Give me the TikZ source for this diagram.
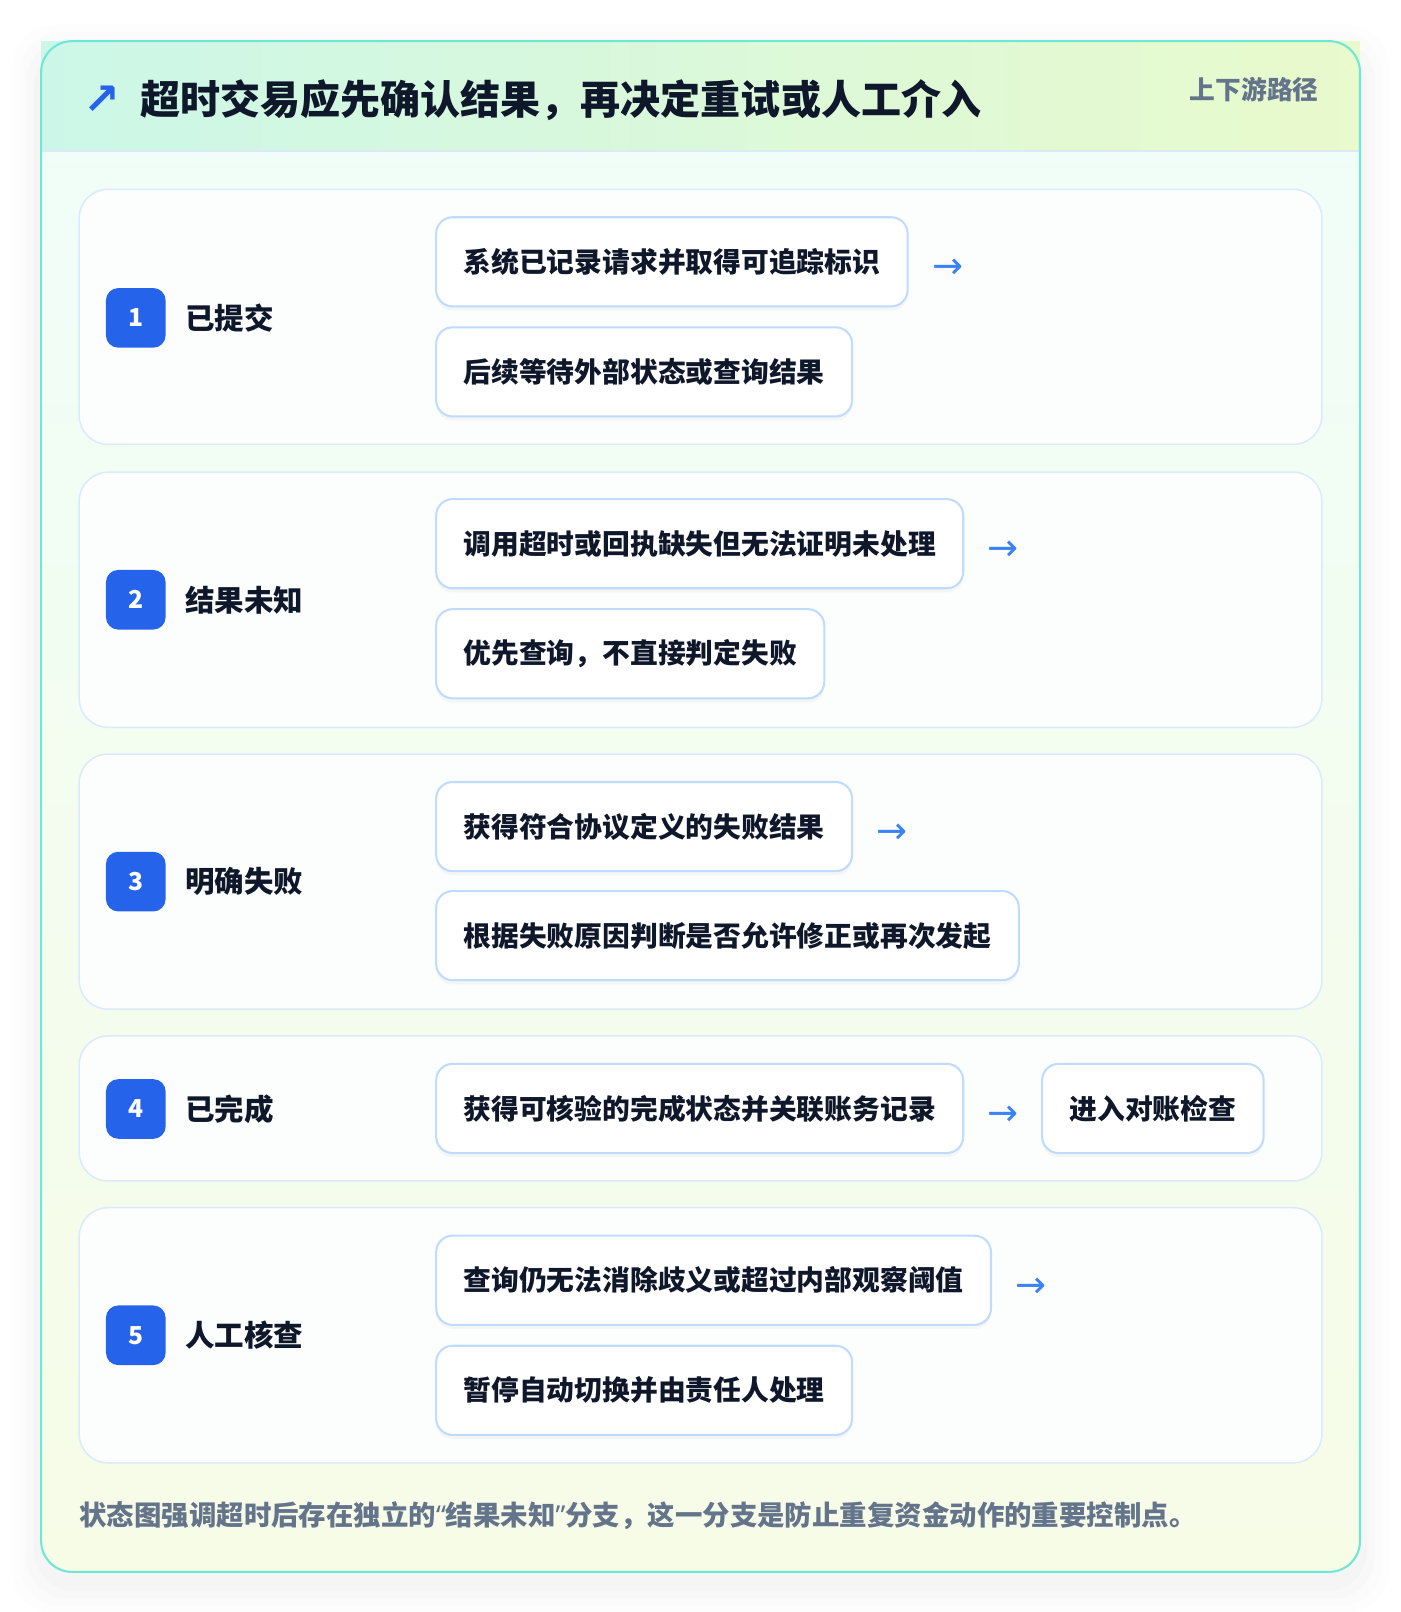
\documentclass[tikz,border=0pt]{standalone}
\usepackage{fontspec}
\setmainfont{Noto Sans CJK SC}
\newfontfamily\symfont{DejaVu Sans}
\newfontfamily\latinfont{Noto Sans}
\usetikzlibrary{positioning,shadows}

\definecolor{ink}{RGB}{15,23,42}
\definecolor{slate}{RGB}{100,116,139}
\definecolor{badgeblue}{RGB}{37,99,235}
\definecolor{arrowblue}{RGB}{59,130,246}
\definecolor{tealline}{RGB}{110,231,212}
\definecolor{headleft}{RGB}{204,247,232}
\definecolor{headright}{RGB}{233,250,204}
\definecolor{bodytop}{RGB}{240,253,249}
\definecolor{bodybot}{RGB}{246,252,230}
\definecolor{cardline}{RGB}{219,234,254}
\definecolor{boxline}{RGB}{191,219,254}
\definecolor{cardfill}{RGB}{252,254,253}
\definecolor{headrule}{RGB}{219,234,246}

\tikzset{
  stepcard/.style={draw=cardline, line width=1.1pt, fill=cardfill, rounded corners=21pt},
  itembox/.style={draw=boxline, line width=1.5pt, fill=white, rounded corners=12pt,
    minimum height=65pt, inner xsep=20pt, inner ysep=0pt, anchor=west, text=ink,
    font=\bfseries\fontsize{20.25}{24}\selectfont,
    drop shadow={opacity=0.06, shadow xshift=0pt, shadow yshift=-3pt}},
  badge/.style={fill=badgeblue, rounded corners=9pt, minimum size=43.5pt, inner sep=0pt,
    text=white, font=\bfseries\fontsize{18}{20}\selectfont},
  steplabel/.style={anchor=west, inner sep=0pt, text=ink, font=\bfseries\fontsize{21.5}{26}\selectfont},
  nextarrow/.style={anchor=west, inner sep=0pt, text=arrowblue, font=\symfont\fontsize{27}{27}\selectfont},
}

\begin{document}
\begin{tikzpicture}[x=0.75pt,y=0.75pt,yscale=-1,xscale=1]
	\useasboundingbox (0,0) rectangle (1361,1567);
	\fill[white] (0,0) rectangle (1361,1567);

	% soft shadow round the panel
	\foreach \s/\o in {28/0.006, 21/0.008, 14/0.010, 7/0.012}
		\fill[black, opacity=\o, rounded corners=30pt] (40-\s,52-\s) rectangle (1322+\s,1540+\s);

	% panel, header and frame
	\shade[top color=bodytop, bottom color=bodybot, rounded corners=22.5pt] (40,40) rectangle (1322,1528);
	\shade[left color=headleft, right color=headright] (40,40) rectangle (1322,147);
	\draw[headrule, line width=1.5pt] (40,147) -- (1322,147);
	\draw[tealline, line width=1.5pt, rounded corners=22.5pt] (40,40) rectangle (1322,1528);

	\node[text=badgeblue, inner sep=0pt, font=\symfont\bfseries\fontsize{32}{32}\selectfont] (icon) at (99,97) {↗};
	\node[anchor=west, inner sep=0pt, text=ink, font=\bfseries\fontsize{29.2}{34}\selectfont] (title) at (136,97) {超时交易应先确认结果，再决定重试或人工介入};
	\node[anchor=east, inner sep=0pt, text=slate, font=\bfseries\fontsize{18.75}{22}\selectfont] (tag) at (1282,87) {上下游路径};

	% state cards
	\foreach \t/\b in {184/432, 459/707, 733/981, 1007/1148, 1174/1422}
		\draw[stepcard] (77,\t) rectangle (1285,\b);

	% 1
	\node[badge] (n1) at (132,309) {1};
	\node[steplabel, right=14pt of n1] (l1) {已提交};
	\node[itembox] (s1a) at (423,254.5) {系统已记录请求并取得可追踪标识};
	\node[nextarrow, right=17pt of s1a, yshift=-5.4pt] (r1) {→};
	\node[itembox] (s1b) at (423,361.5) {后续等待外部状态或查询结果};

	% 2
	\node[badge] (n2) at (132,583) {2};
	\node[steplabel, right=14pt of n2] (l2) {结果未知};
	\node[itembox] (s2a) at (423,528.5) {调用超时或回执缺失但无法证明未处理};
	\node[nextarrow, right=17pt of s2a, yshift=-5.4pt] (r2) {→};
	\node[itembox] (s2b) at (423,635.5) {优先查询，不直接判定失败};

	% 3
	\node[badge] (n3) at (132,857) {3};
	\node[steplabel, right=14pt of n3] (l3) {明确失败};
	\node[itembox] (s3a) at (423,803.5) {获得符合协议定义的失败结果};
	\node[nextarrow, right=17pt of s3a, yshift=-5.4pt] (r3) {→};
	\node[itembox] (s3b) at (423,909.5) {根据失败原因判断是否允许修正或再次发起};

	% 4
	\node[badge] (n4) at (132,1078) {4};
	\node[steplabel, right=14pt of n4] (l4) {已完成};
	\node[itembox] (s4a) at (423,1077.5) {获得可核验的完成状态并关联账务记录};
	\node[nextarrow, right=17pt of s4a, yshift=-5.4pt] (r4) {→};
	\node[itembox, right=56pt of s4a] (s4b) {进入对账检查};

	% 5
	\node[badge] (n5) at (132,1298) {5};
	\node[steplabel, right=14pt of n5] (l5) {人工核查};
	\node[itembox] (s5a) at (423,1244.5) {查询仍无法消除歧义或超过内部观察阈值};
	\node[nextarrow, right=17pt of s5a, yshift=-5.4pt] (r5) {→};
	\node[itembox] (s5b) at (423,1351.5) {暂停自动切换并由责任人处理};

	\node[anchor=west, inner sep=0pt, text=slate, font=\bfseries\fontsize{20}{24}\selectfont] (note) at (77,1473) {状态图强调超时后存在独立的{\latinfont “}结果未知{\latinfont ”}分支，这一分支是防止重复资金动作的重要控制点。};
\end{tikzpicture}
\end{document}
